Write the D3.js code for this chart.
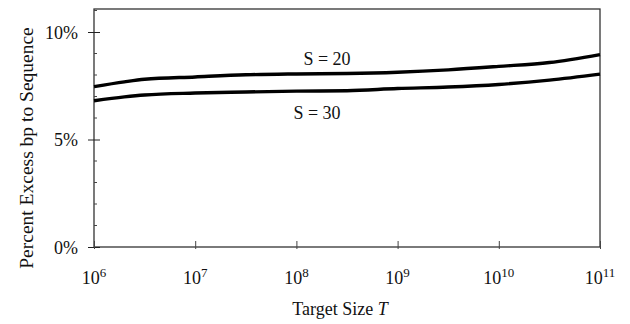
<!DOCTYPE html>
<html>
<head>
<meta charset="utf-8">
<script src="https://cdn.jsdelivr.net/npm/d3@7"></script>
<style>
  html, body { margin: 0; padding: 0; background: #fff; }
  svg { display: block; font-family: "Liberation Serif", "Times New Roman", serif; }
</style>
</head>
<body>
<svg id="chart" width="630" height="324"></svg>
<script>
// Target sizes (log10 of T) and excess bp (%) for two sequence settings
const logT = [6.0, 6.3, 6.5, 7.0, 7.5, 8.0, 8.5, 9.0, 9.5, 10.0, 10.5, 11.0];
const s20 = [7.46, 7.68, 7.80, 7.91, 8.01, 8.05, 8.07, 8.13, 8.24, 8.40, 8.58, 8.95];
const s30 = [6.80, 6.98, 7.07, 7.16, 7.21, 7.25, 7.27, 7.37, 7.44, 7.56, 7.76, 8.04];
const seriesLabels = ["S = 20", "S = 30"];
const xTickExps = [6, 7, 8, 9, 10, 11];
const yTicks = [0, 5, 10];
const yMinorTicks = [1, 2, 3, 4, 6, 7, 8, 9, 11];

const svg = d3.select("#chart");
const m = { left: 94, right: 30, top: 9, bottom: 77 };
const W = 630, H = 324;

const x = d3.scaleLog().domain([1e6, 1e11]).range([m.left, W - m.right]);
const y = d3.scaleLinear().domain([0, 11.07]).range([H - m.bottom, m.top]);

const g = svg.append("g");

// Frame
g.append("rect")
  .attr("x", m.left).attr("y", m.top)
  .attr("width", W - m.right - m.left).attr("height", H - m.bottom - m.top)
  .attr("fill", "none").attr("stroke", "#333").attr("stroke-width", 1.3);

// Y axis: major ticks cross the axis, minor ticks inside
const yAxis = g.append("g").attr("transform", `translate(${m.left},0)`)
  .call(d3.axisLeft(y).tickValues(yTicks).tickSize(6).tickFormat(d => d + "%"));
yAxis.select(".domain").remove();
yAxis.selectAll(".tick line").attr("x2", -6).attr("x1", 6).attr("stroke", "#222");
yAxis.selectAll(".tick text")
  .attr("x", -16).attr("dy", "0.35em")
  .style("font-size", "18px").style("font-family", "Liberation Serif, serif").attr("fill", "#111");

g.append("g").selectAll("line").data(yMinorTicks).join("line")
  .attr("x1", m.left).attr("x2", m.left + 3)
  .attr("y1", d => y(d)).attr("y2", d => y(d))
  .attr("stroke", "#444").attr("stroke-width", 1);

// X axis: decade ticks, labels as powers of ten
const xAxis = g.append("g").attr("transform", `translate(0,${H - m.bottom})`)
  .call(d3.axisBottom(x).tickValues(xTickExps.map(e => Math.pow(10, e))).tickSize(0).tickFormat(""));
xAxis.select(".domain").remove();
xAxis.selectAll(".tick line").attr("y1", -6).attr("y2", 2).attr("stroke", "#444");

const xl = g.append("g").selectAll("text").data(xTickExps).join("text")
  .attr("x", d => x(Math.pow(10, d)))
  .attr("y", H - m.bottom + 37)
  .attr("text-anchor", "middle")
  .attr("fill", "#111")
  .style("font-size", "18px");
xl.append("tspan").text("10");
xl.append("tspan").text(d => d)
  .attr("dy", "-7").style("font-size", "13px");

// Curves
const line = d3.line().x(d => x(Math.pow(10, d[0]))).y(d => y(d[1])).curve(d3.curveMonotoneX);
[s20, s30].forEach(vals => {
  g.append("path")
    .datum(logT.map((t, i) => [t, vals[i]]))
    .attr("d", line)
    .attr("fill", "none").attr("stroke", "#000").attr("stroke-width", 3.4)
    .attr("stroke-linejoin", "round");
});

// Series labels
g.append("text").attr("x", 327).attr("y", 65).attr("text-anchor", "middle")
  .style("font-size", "18px").attr("fill", "#111").text(seriesLabels[0]);
g.append("text").attr("x", 317).attr("y", 119).attr("text-anchor", "middle")
  .style("font-size", "18px").attr("fill", "#111").text(seriesLabels[1]);

// Axis titles
const xt = g.append("text").attr("x", 340).attr("y", 315).attr("text-anchor", "middle")
  .style("font-size", "18px").attr("fill", "#111");
xt.append("tspan").text("Target Size  ");
xt.append("tspan").text("T").style("font-style", "italic");

g.append("text")
  .attr("transform", `translate(33,${(m.top + H - m.bottom) / 2 + 20}) rotate(-90)`)
  .attr("text-anchor", "middle")
  .style("font-size", "19.5px").attr("fill", "#111")
  .text("Percent Excess bp to Sequence");
</script>
</body>
</html>
